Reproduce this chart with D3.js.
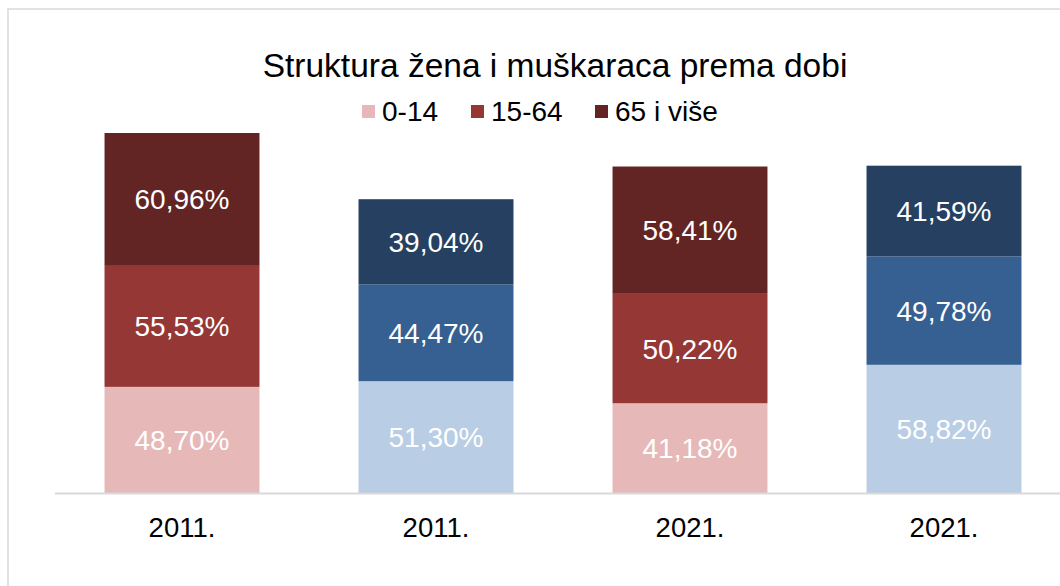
<!DOCTYPE html>
<html>
<head>
<meta charset="utf-8">
<script src="https://cdn.jsdelivr.net/npm/d3@7"></script>
<style>
  html, body { margin: 0; padding: 0; background: #fff; }
  svg { display: block; font-family: "Liberation Sans", Arial, sans-serif; }
</style>
</head>
<body>
<svg id="chart" width="1060" height="586"></svg>
<script>
const title = "Struktura žena i muškaraca prema dobi";
const categories = ["2011.", "2011.", "2021.", "2021."];
const seriesNames = ["0-14", "15-64", "65 i više"];
const values014 = [48.70, 51.30, 41.18, 58.82];
const values1564 = [55.53, 44.47, 50.22, 49.78];
const values65 = [60.96, 39.04, 58.41, 41.59];
const femaleColors = ["#E6B9B8", "#953735", "#632523"];
const maleColors = ["#B9CDE5", "#376092", "#254061"];
const colorSetPerBar = ["f", "m", "f", "m"];

const svg = d3.select("#chart");
const W = 1060, H = 586;

// outer frame
svg.append("rect")
  .attr("x", 8).attr("y", 9).attr("width", 1100).attr("height", 700)
  .attr("fill", "none").attr("stroke", "#d9d9d9").attr("stroke-width", 1.5);

const x = d3.scaleBand()
  .domain(d3.range(categories.length))
  .range([55, 1071])
  .paddingInner(0.39)
  .paddingOuter(0.195);

const baseY = 493;
const pxPerUnit = 360 / 165.19;
const y = d3.scaleLinear().domain([0, 170]).range([baseY, baseY - 170 * pxPerUnit]);

const rows = categories.map((c, i) => ({
  idx: i, cat: c, "0-14": values014[i], "15-64": values1564[i], "65 i više": values65[i]
}));
const stacked = d3.stack().keys(seriesNames)(rows);

stacked.forEach((layer, li) => {
  const g = svg.append("g");
  g.selectAll("rect").data(layer).join("rect")
    .attr("x", d => x(d.data.idx))
    .attr("width", x.bandwidth())
    .attr("y", d => y(d[1]))
    .attr("height", d => y(d[0]) - y(d[1]))
    .attr("fill", d => (colorSetPerBar[d.data.idx] === "f" ? femaleColors : maleColors)[li]);
  g.selectAll("text").data(layer).join("text")
    .attr("x", d => x(d.data.idx) + x.bandwidth() / 2)
    .attr("y", d => (y(d[0]) + y(d[1])) / 2 + 10)
    .attr("text-anchor", "middle")
    .attr("fill", "#ffffff")
    .attr("font-size", 28)
    .text(d => (d[1] - d[0]).toFixed(2).replace(".", ",") + "%");
});

// x axis
const xAxis = d3.axisBottom(x).tickSize(0).tickFormat(i => categories[i]);
const ax = svg.append("g").attr("transform", `translate(0,${baseY})`).call(xAxis);
ax.select(".domain").attr("stroke", "#d9d9d9").attr("stroke-width", 2)
  .attr("d", `M55,0.5H1071`);
ax.selectAll(".tick text")
  .attr("font-family", "Liberation Sans, Arial, sans-serif")
  .attr("font-size", 27.5).attr("fill", "#000")
  .attr("dy", null).attr("y", 44);

// title
svg.append("text")
  .attr("x", 555).attr("y", 77)
  .attr("text-anchor", "middle")
  .attr("font-size", 33.5).attr("fill", "#000")
  .text(title);

// legend
const legendX = [362, 471, 595];
const lg = svg.append("g");
seriesNames.forEach((s, i) => {
  lg.append("rect").attr("x", legendX[i]).attr("y", 105).attr("width", 13).attr("height", 13)
    .attr("fill", femaleColors[i]);
  lg.append("text").attr("x", legendX[i] + 20).attr("y", 121)
    .attr("font-size", 28).attr("fill", "#000").text(s);
});
</script>
</body>
</html>
